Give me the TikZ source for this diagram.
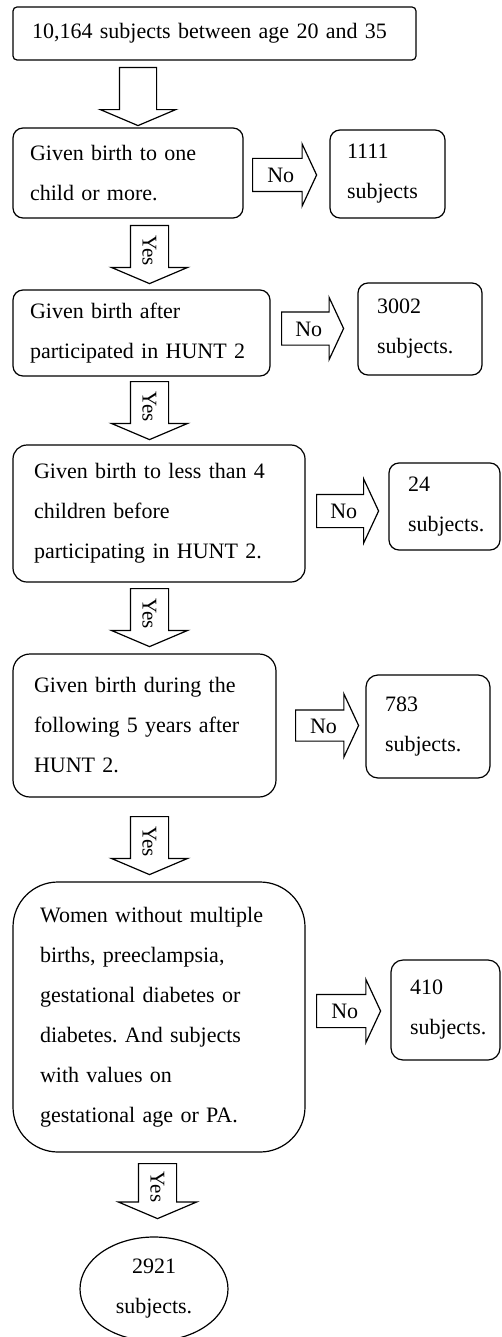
\documentclass[tikz,border=0pt]{standalone}
\usepackage{fontspec}
\setmainfont{Liberation Serif}
\usetikzlibrary{shapes.arrows,shapes.geometric}
\hyphenpenalty=10000
\frenchspacing

\tikzset{
  stepbox/.style={draw, line width=1.2pt, align=left, inner xsep=17pt, inner ysep=0pt,
    font=\fontsize{22}{40}\selectfont},
  noarrow/.style={draw, single arrow, line width=1.2pt, anchor=tail,
    single arrow tip angle=130, single arrow head extend=14.5pt,
    text height=15pt, text depth=0pt, inner ysep=8.5pt, inner xsep=1pt,
    minimum height=64pt, font=\fontsize{22}{22}\selectfont},
  yesarrow/.style={draw, single arrow, line width=1.2pt, anchor=tail, rotate=-90,
    single arrow tip angle=134, single arrow head extend=19pt,
    text height=14pt, text depth=0pt, inner ysep=11.5pt, inner xsep=1pt,
    minimum height=58pt, font=\fontsize{21}{21}\selectfont}
}

\begin{document}
\begin{tikzpicture}[x=1pt, y=-1pt]
\useasboundingbox (0,0) rectangle (501,1337);

% left column
\node[stepbox, rounded corners=4pt, inner xsep=19pt, text width=365pt, minimum width=403pt, minimum height=53pt] (all) at (214.5,33.5) {10,164 subjects between age 20 and 35};
\node[stepbox, rounded corners=10pt, text width=196pt, minimum width=230pt, minimum height=90pt] (q1) at (128,173) {Given birth to one\\child or more.};
\node[stepbox, rounded corners=10pt, text width=223pt, minimum width=257pt, minimum height=86pt] (q2) at (141.5,333) {Given birth after\\participated in HUNT 2};
\node[stepbox, rounded corners=14pt, inner xsep=21pt, text width=250pt, minimum width=292pt, minimum height=137pt] (q3) at (159,513.5) {Given birth to less than 4\\children before\\participating in HUNT 2.};
\node[stepbox, rounded corners=17pt, inner xsep=21pt, text width=221pt, minimum width=263pt, minimum height=143pt] (q4) at (144.5,725.5) {Given birth during the\\following 5 years after\\HUNT 2.};
\node[stepbox, rounded corners=45pt, inner xsep=27pt, text width=238pt, minimum width=292pt, minimum height=270pt] (q5) at (159,1017) {Women without multiple\\births, preeclampsia,\\gestational diabetes or\\diabetes. And subjects\\with values on\\gestational age or PA.};
\node[stepbox, ellipse, align=center, inner xsep=0pt, minimum width=148pt, minimum height=104pt] (final) at (154,1289) {2921\\subjects.};

% excluded
\node[stepbox, rounded corners=10pt, text width=81pt, minimum width=115pt, minimum height=88pt] (ex1) at (387.5,174) {1111\\subjects};
\node[stepbox, rounded corners=10pt, inner xsep=19pt, text width=86pt, minimum width=124pt, minimum height=92pt] (ex2) at (420,329) {3002\\subjects.};
\node[stepbox, rounded corners=10pt, inner xsep=19pt, text width=73pt, minimum width=111pt, minimum height=87pt] (ex3) at (444.5,506.5) {24\\subjects.};
\node[stepbox, rounded corners=12pt, inner xsep=19pt, text width=86pt, minimum width=124pt, minimum height=103pt] (ex4) at (428,726.5) {783\\subjects.};
\node[stepbox, rounded corners=12pt, inner xsep=19pt, text width=71pt, minimum width=109pt, minimum height=100pt] (ex5) at (445.5,1010) {410\\subjects.};

% block arrows
\node[yesarrow, inner ysep=11pt] (start) at (138,67) {};
\node[yesarrow] (yes1) at (149.5,225) {Yes};
\node[yesarrow] (yes2) at (149.5,381) {Yes};
\node[yesarrow] (yes3) at (149.5,588) {Yes};
\node[yesarrow] (yes4) at (149.5,816) {Yes};
\node[yesarrow, minimum height=55pt, single arrow head extend=20pt] (yes5) at (157.5,1163) {Yes};

\node[noarrow] (no1) at (252,175) {No};
\node[noarrow, minimum height=62pt] (no2) at (281,328.5) {No};
\node[noarrow, minimum height=62pt, single arrow head extend=15.5pt] (no3) at (316,511) {No};
\node[noarrow, minimum height=63pt, inner ysep=7.5pt, single arrow head extend=16pt] (no4) at (295,725.5) {No};
\node[noarrow, single arrow head extend=15pt] (no5) at (316,1011) {No};
\end{tikzpicture}
\end{document}
